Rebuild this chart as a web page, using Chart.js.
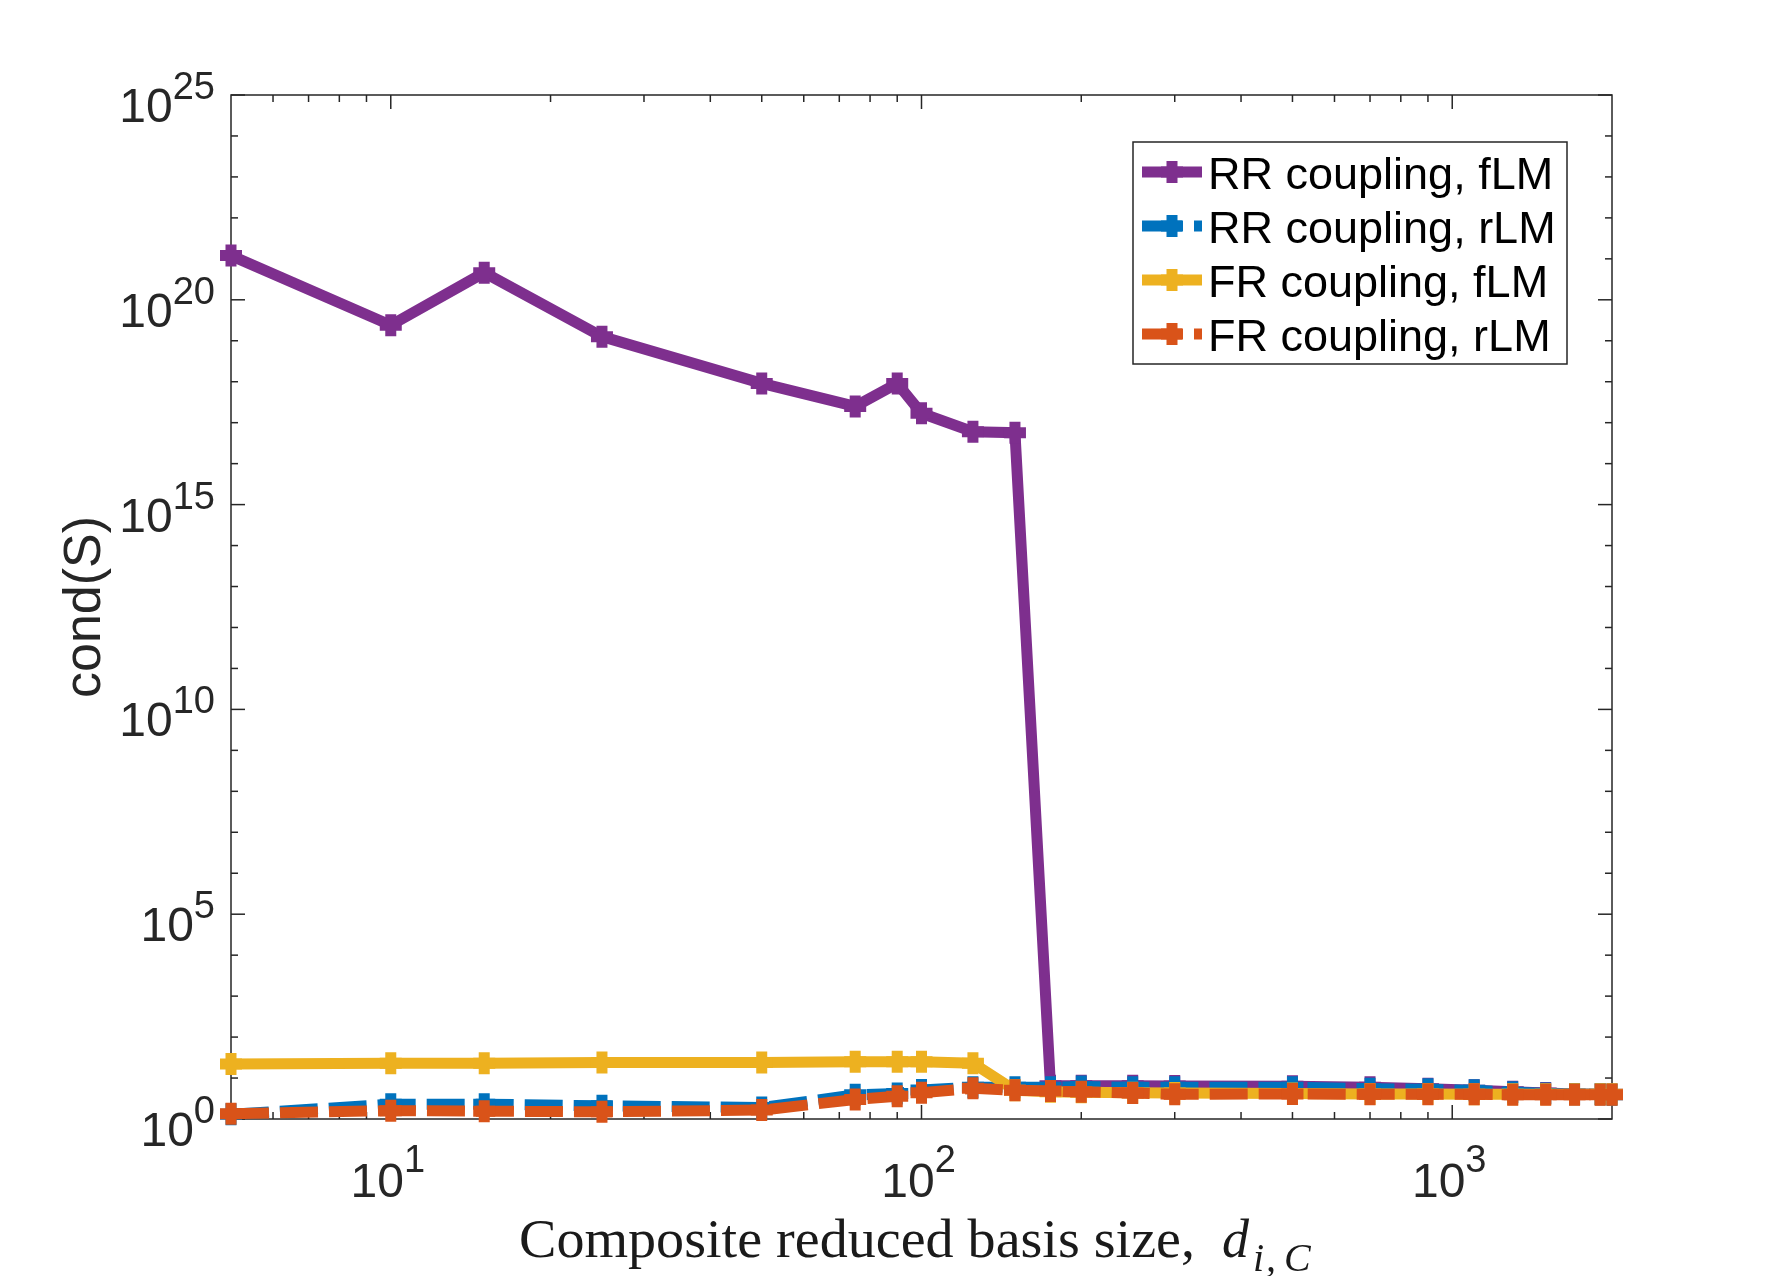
<!DOCTYPE html>
<html>
<head>
<meta charset="utf-8">
<title>cond(S) vs composite reduced basis size</title>
<script src="https://cdn.jsdelivr.net/npm/chart.js@4/dist/chart.umd.min.js"></script>
<style>
  html, body { margin: 0; padding: 0; background: #fff; }
  #wrap { width: 1782px; height: 1276px; }
</style>
</head>
<body>
<div id="wrap"><canvas id="chart" width="1782" height="1276"></canvas></div>
<script>
(function () {
  'use strict';

  // Composite reduced basis sizes, shared by every series.
  const basisSizes = [5, 10, 15, 25, 50, 75, 90, 100, 125, 150, 175, 200, 250, 300,
    500, 700, 900, 1100, 1300, 1500, 1700, 1900, 2000];

  // cond(S) per series.
  const rrFullLM = [1.2e21, 2.4e19, 4.6e20, 1.26e19, 9.1e17, 2.5e17, 9.1e17, 1.7e17, 6e16, 5.7e16,
    6.5, 6.5, 6.5, 6.4, 6.3, 6.0, 5.5, 5.0, 4.6, 4.3, 4.1, 4.0, 4.0];
  const rrReducedLM = [1.3, 2.3, 2.3, 2.1, 1.9, 3.9, 4.2, 5.1, 6.0, 6.0, 6.0, 6.2, 6.0, 6.0,
    6.0, 5.5, 5.3, 5.0, 4.5, 4.2, 4.0, 4.0, 3.9];
  const frFullLM = [22, 23, 23, 24, 24, 25, 25, 25, 23, 5.0, 4.6, 4.5, 4.4, 4.3,
    4.2, 4.1, 4.1, 4.0, 4.0, 4.0, 4.0, 4.0, 4.0];
  const frReducedLM = [1.35, 1.6, 1.55, 1.5, 1.65, 3.0, 3.6, 4.4, 5.6, 5.0, 4.8, 4.6, 4.3, 4.0,
    4.1, 4.0, 4.0, 4.0, 3.9, 3.9, 3.9, 3.9, 3.9];

  const seriesLabels = ['RR coupling, fLM', 'RR coupling, rLM', 'FR coupling, fLM', 'FR coupling, rLM'];
  const seriesColors = ['#7E2F8E', '#0072BD', '#EDB120', '#D95319'];
  const seriesDashed = [false, true, false, true];
  const seriesValues = [rrFullLM, rrReducedLM, frFullLM, frReducedLM];

  // Axis limits and tick positions (log scales).
  const xLimits = [5, 2000];
  const yLimits = [1, 1e25];
  const xMajorTicks = [10, 100, 1000];
  const xMinorTicks = [6, 7, 8, 9, 20, 30, 40, 50, 60, 70, 80, 90, 200, 300, 400, 500, 600, 700, 800, 900];
  const yMajorTicks = [1, 1e5, 1e10, 1e15, 1e20, 1e25];
  const yMinorTicks = [];
  for (let e = 1; e < 25; e++) {
    if (e % 5 !== 0) yMinorTicks.push(Math.pow(10, e));
  }

  const AXIS_COLOR = '#262626';
  const SANS = '"Liberation Sans", Arial, Helvetica, sans-serif';
  const SERIF = '"Liberation Serif", "Times New Roman", serif';
  const LINE_W = 11;
  const DASH = [38, 11];

  /**
   * MATLAB-like box, inward ticks on all four sides (under the data).
   */
  const boxAxes = {
    id: 'boxAxes',
    beforeDatasetsDraw(chart) {
      const { ctx, chartArea: a, scales } = chart;
      ctx.save();
      ctx.strokeStyle = AXIS_COLOR;
      ctx.lineWidth = 1.5;

      const tick = (x1, y1, x2, y2) => {
        ctx.beginPath();
        ctx.moveTo(x1, y1);
        ctx.lineTo(x2, y2);
        ctx.stroke();
      };

      xMajorTicks.concat(xMinorTicks).forEach((v) => {
        const len = xMajorTicks.includes(v) ? 14 : 7;
        const px = scales.x.getPixelForValue(v);
        tick(px, a.bottom, px, a.bottom - len);
        tick(px, a.top, px, a.top + len);
      });

      yMajorTicks.concat(yMinorTicks).forEach((v) => {
        const len = yMajorTicks.includes(v) ? 14 : 7;
        const py = scales.y.getPixelForValue(v);
        tick(a.left, py, a.left + len, py);
        tick(a.right, py, a.right - len, py);
      });

      ctx.strokeRect(a.left, a.top, a.right - a.left, a.bottom - a.top);
      ctx.restore();
    }
  };

  /**
   * Power-of-ten tick labels and the two axis titles.
   */
  const axisText = {
    id: 'axisText',
    afterDraw(chart) {
      const { ctx, chartArea: a, scales } = chart;
      ctx.save();
      ctx.fillStyle = AXIS_COLOR;
      ctx.textAlign = 'left';
      ctx.textBaseline = 'alphabetic';

      const baseFont = '48px ' + SANS;
      const supFont = '38px ' + SANS;

      // y labels: right-aligned next to the axis
      yMajorTicks.forEach((v) => {
        const py = scales.y.getPixelForValue(v);
        const exp = String(Math.round(Math.log10(v)));
        ctx.font = supFont;
        const supW = ctx.measureText(exp).width;
        ctx.font = baseFont;
        const baseW = ctx.measureText('10').width;
        const right = a.left - 16;
        ctx.fillText('10', right - supW - baseW, py + 27);
        ctx.font = supFont;
        ctx.fillText(exp, right - supW, py + 4);
      });

      // x labels: centred under the major ticks
      xMajorTicks.forEach((v) => {
        const px = scales.x.getPixelForValue(v);
        const exp = String(Math.round(Math.log10(v)));
        ctx.font = supFont;
        const supW = ctx.measureText(exp).width;
        ctx.font = baseFont;
        const baseW = ctx.measureText('10').width;
        const left = px - (baseW + supW) / 2 - 3;
        ctx.fillText('10', left, a.bottom + 78);
        ctx.font = supFont;
        ctx.fillText(exp, left + baseW, a.bottom + 53);
      });

      // y title
      ctx.save();
      ctx.translate(86, (a.top + a.bottom) / 2);
      ctx.rotate(-Math.PI / 2);
      ctx.font = '52px ' + SANS;
      ctx.textAlign = 'center';
      ctx.textBaseline = 'middle';
      ctx.fillText('cond(S)', 0, 0);
      ctx.restore();

      // x title (LaTeX look): plain words fitted to width, then d_{i,C}
      const words = 'Composite reduced basis size,';
      const titleLeft = 519;
      const titleBase = 1257;
      ctx.fillStyle = '#1a1a1a';
      ctx.font = '54px ' + SERIF;
      const sx = (1195 - titleLeft) / ctx.measureText(words).width;
      ctx.save();
      ctx.translate(titleLeft, titleBase);
      ctx.scale(sx, 1);
      ctx.fillText(words, 0, 0);
      ctx.restore();
      ctx.font = 'italic 54px ' + SERIF;
      ctx.fillText('d', 1222, titleBase);
      ctx.font = 'italic 40px ' + SERIF;
      ctx.fillText('i', 1253, titleBase + 14);
      ctx.fillText(',', 1266, titleBase + 14);
      ctx.fillText('C', 1284, titleBase + 14);

      ctx.restore();
    }
  };

  /**
   * Boxed legend with line + marker samples (drawn above the data).
   */
  const boxLegend = {
    id: 'boxLegend',
    afterDatasetsDraw(chart) {
      const { ctx } = chart;
      const box = { left: 1133, top: 142, right: 1567, bottom: 364 };
      const rowY = [172, 226, 280, 334];

      ctx.save();
      ctx.fillStyle = '#fff';
      ctx.fillRect(box.left, box.top, box.right - box.left, box.bottom - box.top);
      ctx.strokeStyle = AXIS_COLOR;
      ctx.lineWidth = 1.5;
      ctx.strokeRect(box.left, box.top, box.right - box.left, box.bottom - box.top);

      seriesLabels.forEach((label, i) => {
        const y = rowY[i];
        ctx.strokeStyle = seriesColors[i];
        ctx.lineWidth = LINE_W;
        ctx.setLineDash(seriesDashed[i] ? [40, 12] : []);
        ctx.beginPath();
        ctx.moveTo(1142, y);
        ctx.lineTo(1202, y);
        ctx.stroke();

        ctx.setLineDash([]);
        ctx.lineWidth = 11;
        ctx.beginPath();
        ctx.moveTo(1161, y);
        ctx.lineTo(1183, y);
        ctx.moveTo(1172, y - 11);
        ctx.lineTo(1172, y + 11);
        ctx.stroke();

        ctx.fillStyle = '#000';
        ctx.font = '45px ' + SANS;
        ctx.textBaseline = 'alphabetic';
        ctx.fillText(label, 1208, y + 17);
      });
      ctx.restore();
    }
  };

  const datasets = seriesValues.map((values, i) => ({
    label: seriesLabels[i],
    data: basisSizes.map((x, k) => ({ x: x, y: values[k] })),
    borderColor: seriesColors[i],
    backgroundColor: seriesColors[i],
    borderWidth: LINE_W,
    borderDash: seriesDashed[i] ? DASH : [],
    tension: 0,
    fill: false,
    pointStyle: 'cross',
    pointRadius: 11,
    pointHoverRadius: 11,
    pointBorderWidth: 11,
    pointBorderColor: seriesColors[i],
    pointBackgroundColor: seriesColors[i],
    clip: false,
    // later MATLAB series sit on top
    order: seriesValues.length - i
  }));

  new Chart(document.getElementById('chart'), {
    type: 'line',
    data: { datasets },
    options: {
      responsive: false,
      animation: false,
      events: [],
      layout: { padding: { left: 231, top: 95, right: 170, bottom: 157 } },
      plugins: {
        legend: { display: false },
        tooltip: { enabled: false }
      },
      scales: {
        x: { type: 'logarithmic', min: xLimits[0], max: xLimits[1], display: false },
        y: { type: 'logarithmic', min: yLimits[0], max: yLimits[1], display: false }
      }
    },
    plugins: [boxAxes, axisText, boxLegend]
  });
})();
</script>
</body>
</html>
